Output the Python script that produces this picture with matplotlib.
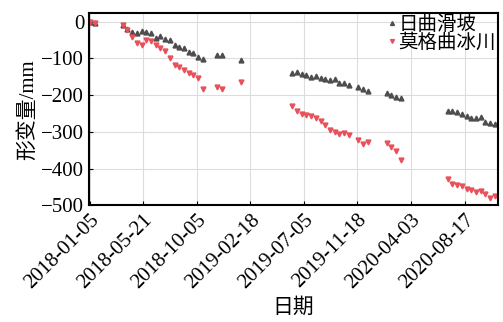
import numpy as np
import pandas as pd
import matplotlib
matplotlib.use("Agg")
import matplotlib.pyplot as plt

plt.rcParams['font.family'] = ['Liberation Serif', 'Noto Sans CJK SC']
plt.rcParams['axes.unicode_minus'] = True

start = pd.Timestamp("2018-01-05")

# days after 2018-01-05 (12-day revisit)
days = [0, 12, 84, 96, 108, 120, 132, 144, 156, 168, 180, 192, 204, 216, 228,
        240, 252, 264, 276, 288, 324, 336, 384,
        516, 528, 540, 552, 564, 576, 588, 600, 612, 624, 636, 648, 660,
        684, 696, 708, 756, 768, 780, 792,
        912, 924, 936, 948, 960, 972, 984, 996, 1008, 1020, 1032]

rqu = [0, -3, -9, -20, -27, -32, -25, -29, -32, -45, -40, -47, -50, -63, -68,
       -72, -83, -86, -95, -101, -91, -91, -105,
       -141, -138, -143, -146, -150, -148, -153, -157, -159, -157, -166, -168, -173,
       -179, -182, -188, -195, -200, -204, -209,
       -242, -242, -245, -251, -258, -263, -263, -260, -272, -275, -279]

mogequ = [0, -3, -9, -23, -41, -59, -63, -50, -52, -63, -72, -80, -100, -118, -123,
          -132, -141, -145, -152, -182, -177, -182, -164,
          -230, -244, -250, -254, -257, -263, -270, -281, -295, -300, -306, -304, -309,
          -322, -333, -327, -329, -341, -352, -376,
          -428, -442, -445, -447, -454, -458, -463, -460, -468, -479, -475]

tick_dates = ["2018-01-05", "2018-05-21", "2018-10-05", "2019-02-18",
              "2019-07-05", "2019-11-18", "2020-04-03", "2020-08-17"]

dates = start + pd.to_timedelta(days, unit="D")

fig = plt.figure(figsize=(5.03, 3.22), dpi=100)
ax = fig.add_axes([0.177, 0.362, 0.813, 0.597])

ax.plot(dates, rqu, linestyle='none', marker='^', markersize=3.5,
        color='#4d4d4d', label='日曲滑坡')
ax.plot(dates, mogequ, linestyle='none', marker='v', markersize=3.5,
        color='#e8505a', label='莫格曲冰川')

ax.set_xlim(start - pd.Timedelta(days=2), start + pd.Timedelta(days=1040))
ax.set_ylim(-500, 23)
ax.set_yticks([0, -100, -200, -300, -400, -500])

ticks = pd.to_datetime(tick_dates)
ax.set_xticks(ticks)
ax.set_xticklabels(tick_dates, rotation=45, ha='right', rotation_mode='anchor')

ax.grid(True, color='#dddddd', linewidth=0.8)
ax.tick_params(direction='in', labelsize=15, length=3)
for s in ax.spines.values():
    s.set_linewidth(1.5)

ax.set_xlabel('日期', fontsize=15)
ax.set_ylabel('形变量/mm', fontsize=15, labelpad=2)

ax.legend(loc='upper right', frameon=False, fontsize=14, handletextpad=0.0,
          handlelength=0.7, borderpad=0.0, labelspacing=0.0, borderaxespad=0.1,
          markerscale=0.8)

fig.savefig("out.png", dpi=100)
